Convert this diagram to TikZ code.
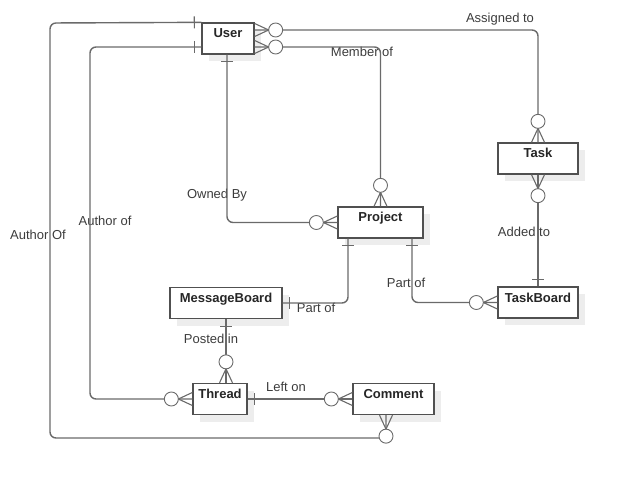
\documentclass[tikz,border=0pt]{standalone}
\usepackage{fontspec}
\setmainfont{Liberation Sans}
\usetikzlibrary{decorations.markings,shadows}
\definecolor{linegray}{HTML}{6A6A6A}
\definecolor{boxgray}{HTML}{505050}
\definecolor{shadowgray}{HTML}{EDEDED}
\definecolor{labelgray}{HTML}{3C3C3C}
\tikzset{
  entity/.style={draw=boxgray, line width=1.3pt, fill=white, text=black!85,
    font=\fontsize{13}{15}\selectfont\bfseries, inner sep=0pt,
    minimum height=31pt, text height=15pt, text depth=16pt,
    drop shadow={shadow xshift=7pt, shadow yshift=-7pt, fill=shadowgray, opacity=1}},
  rel/.style={draw=linegray, line width=1.4pt, rounded corners=6pt},
  relname/.style={text=labelgray, font=\fontsize{13}{15}\selectfont, inner sep=0pt},
  onestart/.style={postaction={decorate, decoration={markings,
    mark=at position 7pt with {\draw[linegray, line width=1.2pt, sharp corners] (0pt, -6pt) -- (0pt, 6pt);}}}},
  oneend/.style={postaction={decorate, decoration={markings,
    mark=at position -7pt with {\draw[linegray, line width=1.2pt, sharp corners] (0pt, -6pt) -- (0pt, 6pt);}}}},
  manystart/.style={postaction={decorate, decoration={markings,
    mark=at position 0pt with {\draw[linegray, line width=1.1pt, sharp corners] (14pt, 0pt) -- (0pt, 6.5pt) (14pt, 0pt) -- (0pt, -6.5pt);
      \draw[linegray, line width=0.9pt, fill=white] (21pt, 0pt) circle (7pt);}}}},
  manyend/.style={postaction={decorate, decoration={markings,
    mark=at position 1 with {\draw[linegray, line width=1.1pt, sharp corners] (-14pt, 0pt) -- (0pt, 6.5pt) (-14pt, 0pt) -- (0pt, -6.5pt);
      \draw[linegray, line width=0.9pt, fill=white] (-21pt, 0pt) circle (7pt);}}}},
}
\begin{document}
\begin{tikzpicture}[x=1pt, y=-1pt]
\useasboundingbox (0, 0) rectangle (618, 486);
\path (228, 38.5) node[entity, minimum width=52pt] (User) {User};
\path (538, 158.5) node[entity, minimum width=80pt] (Task) {Task};
\path (380.5, 222.5) node[entity, minimum width=85pt] (Project) {Project};
\path (226, 303) node[entity, minimum width=112pt] (MessageBoard) {MessageBoard};
\path (538, 302.5) node[entity, minimum width=80pt] (TaskBoard) {TaskBoard};
\path (220, 399) node[entity, minimum width=54pt] (Thread) {Thread};
\path (393.5, 399) node[entity, minimum width=81pt] (Comment) {Comment};
\path (38, 235) node[relname] (authorOf) {Author Of};
\path (105, 221) node[relname] (authorOfThread) {Author of};
\path (217, 195) node[relname] (ownedBy) {Owned By};
\path (500, 19) node[relname] (assignedTo) {Assigned to};
\path (362, 52) node[relname] (memberOf) {Member of};
\path (524, 232) node[relname] (addedTo) {Added to};
\path (406, 283) node[relname] (partOfTask) {Part of};
\path (316, 308) node[relname] (partOfMessage) {Part of};
\path (211, 339) node[relname] (postedIn) {Posted in};
\path (286, 387) node[relname] (leftOn) {Left on};
\draw[rel, onestart, manyend] (User.north west) -- (50, 23) -- (50, 438) -- (386, 438) -- ([xshift=-7.5pt]Comment.south);
\draw[rel, onestart, manyend] ([yshift=-8.5pt]User.west) -- (90, 47) -- (90, 399) -- (Thread.west);
\draw[rel, manystart, manyend] ([yshift=8.5pt]User.east) -- (538, 30) -- (Task.north);
\draw[rel, manystart, manyend] ([yshift=-8.5pt]User.east) -- (380.5, 47) -- (Project.north);
\draw[rel, onestart, manyend] ([xshift=-1pt]User.south) -- (227, 222.5) -- (Project.west);
\draw[rel, onestart, oneend] ([xshift=-32.5pt]Project.south) -- (348, 303) -- (MessageBoard.east);
\draw[rel, onestart, manyend] ([xshift=31.5pt]Project.south) -- (412, 302.5) -- (TaskBoard.west);
\draw[rel, manystart, oneend] (Task.south) -- (TaskBoard.north);
\draw[rel, onestart, manyend] (MessageBoard.south) -- (MessageBoard.south |- Thread.north);
\draw[rel, onestart, manyend] (Thread.east) -- (Comment.west);
\end{tikzpicture}
\end{document}
